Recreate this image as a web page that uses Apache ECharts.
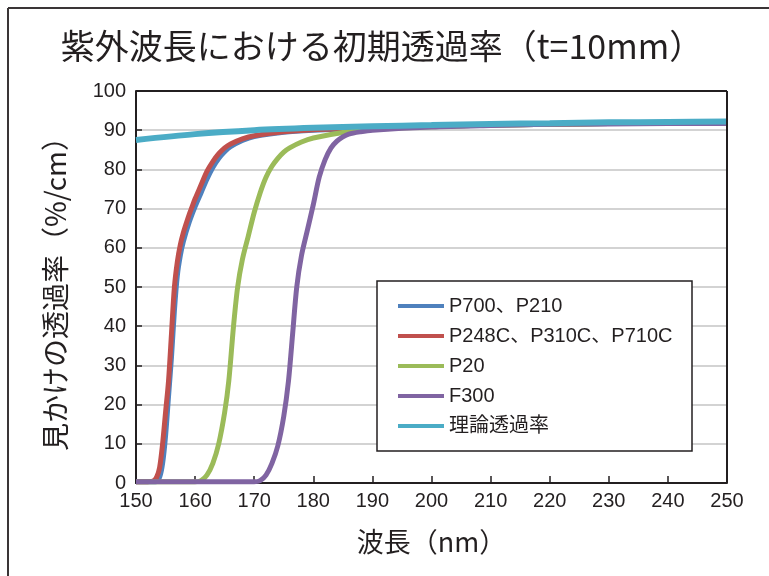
<!DOCTYPE html>
<html><head><meta charset="utf-8">
<script src="https://cdn.jsdelivr.net/npm/echarts@6/dist/echarts.min.js"></script>
<style>html,body{margin:0;padding:0;background:#fff}#c{width:769px;height:576px}</style>
</head><body><div id="c"></div>
<script>
var seriesNames = ['P700、P210', 'P248C、P310C、P710C', 'P20', 'F300', '理論透過率'];
var xTicks = [150, 160, 170, 180, 190, 200, 210, 220, 230, 240, 250];
var yTicks = [0, 10, 20, 30, 40, 50, 60, 70, 80, 90, 100];
var p700 = [[150,0.3],[153.3,0.3],[154,1.5],[154.5,5],[155,12],[155.5,22],[156,32],[156.5,44],[157,53],[157.5,58],[158,61.5],[159,66.5],[160,70.5],[161,74],[162,77.5],[163,80.5],[164,82.8],[165,84.5],[166,85.8],[168,87.4],[170,88.4],[175,89.5],[180,90],[190,90.6],[200,91],[210,91.3],[220,91.5],[230,91.7],[240,91.9],[250,92]];
var p248 = [[150,0.3],[152,0.3],[153,0.6],[153.5,1.5],[154,4],[154.5,10],[155,18],[155.5,26],[156,38],[156.5,50],[157,56.5],[157.5,60.8],[158,63.8],[158.5,66.2],[159,68.5],[159.5,70.5],[160,72.5],[161,76],[162,79.5],[163,82],[164,84],[165,85.5],[166,86.5],[168,87.8],[170,88.6],[175,89.6],[180,90.1],[190,90.6],[200,91],[210,91.3],[220,91.5],[230,91.7],[240,91.9],[250,92]];
var p20 = [[150,0.3],[160,0.3],[161,0.6],[162,2],[163,5],[164,10],[165,18],[165.7,26],[166.5,40],[167.2,50],[168,57],[169,63],[170,69],[171,74],[172,78],[173,80.8],[174,82.8],[175,84.4],[176,85.5],[178,87],[180,88],[185,89.4],[190,90.2],[200,90.9],[210,91.3],[220,91.5],[230,91.7],[240,91.9],[250,92]];
var f300 = [[150,0.3],[170,0.3],[171,0.6],[172,2],[173,5],[174,9.5],[175,17],[175.8,26],[176.5,38],[177.2,50],[178,58],[179,64.5],[180,71],[181,78],[182,82.5],[183,85.5],[184,87.2],[185,88.3],[186,89],[188,89.6],[190,90],[200,90.8],[210,91.2],[220,91.5],[230,91.6],[240,91.7],[250,91.7]];
var theory = [[150,87.5],[160,89],[170,90],[180,90.6],[190,91],[200,91.3],[210,91.6],[220,91.8],[230,92],[240,92.1],[250,92.2]];

var colors = ['#4f81bd', '#c0504d', '#9bbb59', '#8064a2', '#4bacc6'];
var dataList = [p700, p248, p20, f300, theory];
var txt = '#231f20';
var chart = echarts.init(document.getElementById('c'));
var series = dataList.map(function (d, i) {
  return {
    name: seriesNames[i], type: 'line', data: d, showSymbol: false, smooth: 0.3,
    lineStyle: { color: colors[i], width: i === 4 ? 6 : 5 }, itemStyle: { color: colors[i] }, z: 2 + i
  };
});
chart.setOption({
  animation: false,
  title: { text: '紫外波長における初期透過率（t=10mm）', left: 377, top: 24, textAlign: 'center',
    textStyle: { fontFamily: 'Noto Sans CJK JP', fontWeight: 'normal', fontSize: 34, color: txt } },
  grid: { left: 136, right: 42, top: 91, bottom: 93, show: false },
  legend: {
    orient: 'vertical', left: 393, top: 291, icon: 'rect', itemWidth: 46, itemHeight: 4, itemGap: 10, z: 100,
    data: seriesNames,
    textStyle: { fontFamily: 'Liberation Sans, Noto Sans CJK JP', fontSize: 20, color: txt, lineHeight: 20 }
  },
  xAxis: {
    type: 'value', min: 150, max: 250, interval: 10,
    name: '波長（nm）', nameLocation: 'middle', nameGap: 45,
    nameTextStyle: { fontFamily: 'Noto Sans CJK JP', fontSize: 27, color: txt },
    axisLine: { show: true, lineStyle: { color: txt, width: 2 } },
    axisTick: { show: true, inside: true, length: 7, lineStyle: { color: txt, width: 1.5 } },
    axisLabel: { fontFamily: 'Liberation Sans', fontSize: 20, color: txt, margin: 8,
      formatter: function (v) { return xTicks.indexOf(v) >= 0 ? String(v) : ''; } },
    splitLine: { show: false }
  },
  yAxis: {
    type: 'value', min: 0, max: 100, interval: 10,
    name: '見かけの透過率（%/cm）', nameLocation: 'middle', nameGap: 67, nameRotate: 90,
    nameTextStyle: { fontFamily: 'Noto Sans CJK JP', fontSize: 28, color: txt },
    axisLine: { show: true, lineStyle: { color: txt, width: 2 } },
    axisTick: { show: true, inside: true, length: 6, lineStyle: { color: txt, width: 1.5 } },
    axisLabel: { fontFamily: 'Liberation Sans', fontSize: 20, color: txt, margin: 10,
      formatter: function (v) { return yTicks.indexOf(v) >= 0 ? String(v) : ''; } },
    splitLine: { show: true, lineStyle: { color: '#d3d3d3', width: 2 } }
  },
  graphic: [
    { type: 'line', shape: { x1: 8, y1: 8, x2: 769, y2: 8 }, style: { stroke: '#3a3536', lineWidth: 2 } },
    { type: 'line', shape: { x1: 8, y1: 8, x2: 8, y2: 576 }, style: { stroke: '#3a3536', lineWidth: 2 } },
    { type: 'line', shape: { x1: 136, y1: 91, x2: 727, y2: 91 }, style: { stroke: txt, lineWidth: 2 }, z: 10 },
    { type: 'line', shape: { x1: 727, y1: 91, x2: 727, y2: 483 }, style: { stroke: txt, lineWidth: 2 }, z: 10 },
    { type: 'rect', shape: { x: 377, y: 281, width: 315, height: 170 }, style: { fill: '#fff', stroke: txt, lineWidth: 1.5 }, z: 1 }
  ],
  series: series
});
</script></body></html>
